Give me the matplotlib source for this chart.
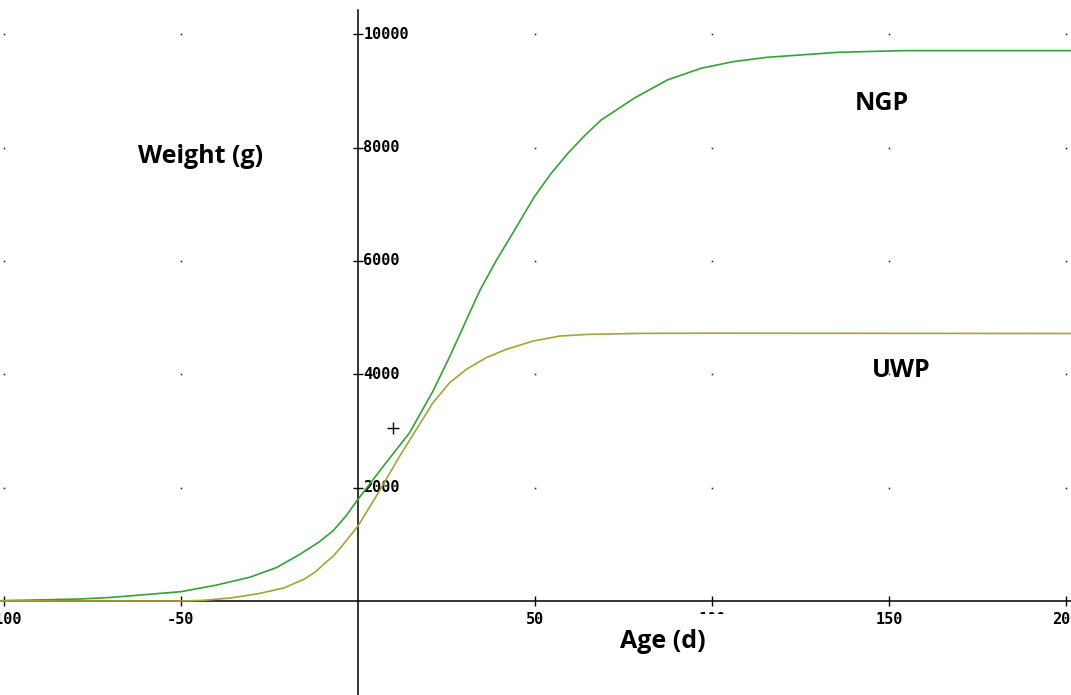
import numpy as np
import matplotlib.pyplot as plt
from matplotlib.patches import Rectangle

# growth curves (age in days, weight in g)
ngp_age = [-101, -78.5, -70, -59, -50, -40, -30.5, -23, -16.5, -11, -7, -3.5, 0, 7.2, 14.6,
           21.2, 26, 30.7, 34.5, 39, 44.1, 49.8, 54.5, 59.3, 64, 68.7, 78, 87.4,
           96.9, 106, 115.6, 125, 135.6, 153.7, 202]
ngp_wt = [5, 35, 62, 118, 164, 280, 420, 590, 820, 1040, 1240, 1490, 1793, 2381, 2970,
          3704, 4322, 4969, 5488, 6000, 6530, 7130, 7540, 7900, 8210, 8488, 8871, 9194,
          9400, 9517, 9594, 9635, 9682, 9711, 9711]

uwp_age = [-101, -50, -44, -36, -28, -21, -15, -11.9, -8.9, -7, -4.5, 0, 5.2, 11.8,
           16.5, 21.2, 25.9, 30.6, 36.2, 41.9, 49.4, 57, 65, 80, 100, 202]
uwp_wt = [0, 0, 10, 53, 130, 229, 390, 520, 690, 790, 970, 1322, 1851, 2557,
          3028, 3499, 3852, 4087, 4293, 4440, 4586, 4675, 4705, 4722, 4725, 4720]

x_ticks = [-100, -50, 50, 100, 150, 200]
y_ticks = [2000, 4000, 6000, 8000, 10000]
grid_x = [-100, -50, 50, 100, 150, 200]
cross = (10, 3050)

green = '#2fa534'
olive = '#a9a232'

fig = plt.figure(figsize=(10.71, 6.95), dpi=100)
ax = fig.add_axes([0, 0, 1, 1])
ax.set_xlim(-101.1, 201.4)
ax.set_ylim(-1659, 10605)
ax.axis('off')

# dotted grid at the tick crossings
gx, gy = np.meshgrid(grid_x, y_ticks)
ax.plot(gx.ravel(), gy.ravel(), ls='none', marker='s', ms=1.2, color='#333333', mew=0)

# axes through the origin
ax.axhline(0, color='black', lw=1.1, zorder=2)
ax.plot([0, 0], [-1700, 10430], color='black', lw=1.1, zorder=2)
ax.plot(x_ticks, [0] * len(x_ticks), ls='none', marker='|', ms=7, mew=1, color='black')
ax.plot([0] * len(y_ticks), y_ticks, ls='none', marker='_', ms=7, mew=1, color='black')

mono = dict(family='DejaVu Sans Mono', weight='bold', fontsize=11, color='black')
for xt in x_ticks:
    ax.text(xt, -330, str(xt), ha='center', va='center', **mono)
for yt in y_ticks:
    ax.text(1.5, yt, str(yt), ha='left', va='center', **mono)

ax.plot(ngp_age, ngp_wt, color=green, lw=1.2, zorder=3)
ax.plot(uwp_age, uwp_wt, color=olive, lw=1.2, zorder=3)
ax.plot(*cross, marker='+', ms=8, mew=1, color='black')

# white patch behind the axis title hides most of the "100" label
ax.add_patch(Rectangle((66, -1250), 41, 1020, fc='white', ec='none', zorder=4))

lab = dict(family='Open Sans', weight='bold', fontsize=18, color='black')
ax.text(-44.5, 7850, 'Weight (g)', ha='center', va='center', **lab)
ax.text(148, 8780, 'NGP', ha='center', va='center', **lab)
ax.text(153.5, 4060, 'UWP', ha='center', va='center', **lab)
ax.text(86, -720, 'Age (d)', ha='center', va='center', zorder=5, **lab)

fig.savefig('out.png', dpi=100)
